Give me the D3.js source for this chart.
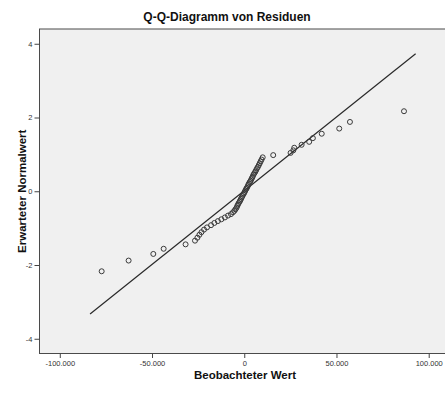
<!DOCTYPE html>
<html>
<head>
<meta charset="utf-8">
<script src="https://cdn.jsdelivr.net/npm/d3@7"></script>
<style>
  html, body { margin: 0; padding: 0; background: #ffffff; }
  svg { display: block; font-family: "Liberation Sans", Arial, sans-serif; }
</style>
</head>
<body>
<svg id="chart" width="445" height="394"></svg>
<script>
// Residuals (observed, sorted ascending) and their expected normal scores
const observedResiduals = [
  -77300, -62700, -49300, -43700, -31800, -26700, -25400, -24300, -23200, -21800,
  -20200, -18000, -16200, -14300, -12400, -10500, -8800, -7200, -6100, -5300,
  -4800, -4200, -3800, -3400, -3000, -2500, -2200, -1800, -1400, -1000,
  -600, -200, 200, 600, 1000, 1400, 1800, 2200, 2500, 3000,
  3400, 3800, 4200, 4600, 5000, 5500, 6000, 6400, 6900, 7400,
  7900, 8400, 8900, 9400, 10000, 15700, 25100, 26600, 27100, 31100,
  35200, 37200, 42000, 51500, 57300, 86600
];
const expectedNormal = [
  -2.17, -1.88, -1.70, -1.56, -1.44, -1.34, -1.26, -1.18, -1.11, -1.04,
  -0.98, -0.92, -0.86, -0.81, -0.76, -0.71, -0.66, -0.62, -0.57, -0.53,
  -0.49, -0.45, -0.40, -0.36, -0.32, -0.28, -0.25, -0.21, -0.17, -0.13,
  -0.09, -0.06, -0.02, 0.02, 0.06, 0.09, 0.13, 0.17, 0.21, 0.25,
  0.28, 0.32, 0.36, 0.40, 0.45, 0.49, 0.53, 0.57, 0.62, 0.66,
  0.71, 0.76, 0.81, 0.86, 0.92, 0.98, 1.04, 1.11, 1.18, 1.26,
  1.34, 1.44, 1.56, 1.70, 1.88, 2.17
];

// Reference line endpoints (observed value, expected normal value)
const refLineObserved = [-83600, 92900];
const refLineExpected = [-3.33, 3.73];

const xTicks = [-100000, -50000, 0, 50000, 100000];
const xTickLabels = ["-100.000", "-50.000", "0", "50.000", "100.000"];
const yTicks = [-4, -2, 0, 2, 4];
const yTickLabels = ["-4", "-2", "0", "2", "4"];

const titleText = "Q-Q-Diagramm von Residuen";
const xTitle = "Beobachteter Wert";
const yTitle = "Erwarteter Normalwert";

const svg = d3.select("#chart");

const plot = { left: 39.5, right: 449, top: 29, bottom: 353.5 };

const x = d3.scaleLinear().domain([-111000, 111000]).range([plot.left, plot.right]);
const y = d3.scaleLinear().domain([-4.4, 4.4]).range([plot.bottom, plot.top]);

const tickFont = "'Liberation Sans Narrow', 'Arial Narrow', 'Liberation Sans', Arial, sans-serif";

// plot background
svg.append("rect")
  .attr("x", plot.left).attr("y", plot.top)
  .attr("width", plot.right - plot.left).attr("height", plot.bottom - plot.top)
  .attr("fill", "#f0f0f0")
  .attr("stroke", "#4a4a4a").attr("stroke-width", 1);

// title
svg.append("text")
  .attr("x", 227).attr("y", 20.5)
  .attr("text-anchor", "middle")
  .attr("font-size", "12px").attr("font-weight", "bold")
  .attr("fill", "#111")
  .text(titleText);

// axes
const xAxis = d3.axisBottom(x)
  .tickValues(xTicks)
  .tickSize(4.5)
  .tickPadding(3)
  .tickFormat((d, i) => xTickLabels[i]);
const gx = svg.append("g")
  .attr("transform", `translate(0,${plot.bottom})`)
  .call(xAxis);
gx.select(".domain").remove();
gx.selectAll(".tick line").attr("stroke", "#444");
gx.selectAll(".tick text")
  .attr("font-size", "7.5px").attr("fill", "#333")
  .attr("font-family", tickFont);

const yAxis = d3.axisLeft(y)
  .tickValues(yTicks)
  .tickSize(5)
  .tickPadding(2)
  .tickFormat((d, i) => yTickLabels[i]);
const gy = svg.append("g")
  .attr("transform", `translate(${plot.left},0)`)
  .call(yAxis);
gy.select(".domain").remove();
gy.selectAll(".tick line").attr("stroke", "#444");
gy.selectAll(".tick text")
  .attr("font-size", "7.5px").attr("fill", "#333")
  .attr("font-family", tickFont);

// axis titles
svg.append("text")
  .attr("x", 245).attr("y", 379)
  .attr("text-anchor", "middle")
  .attr("font-size", "11.5px").attr("font-weight", "bold")
  .attr("fill", "#111")
  .text(xTitle);

svg.append("text")
  .attr("transform", `translate(25.5,${(plot.top + plot.bottom) / 2}) rotate(-90)`)
  .attr("text-anchor", "middle")
  .attr("font-size", "11.5px").attr("font-weight", "bold")
  .attr("fill", "#111")
  .text(yTitle);

// reference line
svg.append("line")
  .attr("x1", x(refLineObserved[0])).attr("y1", y(refLineExpected[0]))
  .attr("x2", x(refLineObserved[1])).attr("y2", y(refLineExpected[1]))
  .attr("stroke", "#2a2a2a").attr("stroke-width", 1.2);

// points
const points = observedResiduals.map((v, i) => ({ obs: v, exp: expectedNormal[i] }));
svg.append("g")
  .selectAll("circle")
  .data(points)
  .join("circle")
  .attr("cx", d => x(d.obs))
  .attr("cy", d => y(d.exp))
  .attr("r", 2.5)
  .attr("fill", "none")
  .attr("stroke", "#3a3a3a")
  .attr("stroke-width", 1);
</script>
</body>
</html>
